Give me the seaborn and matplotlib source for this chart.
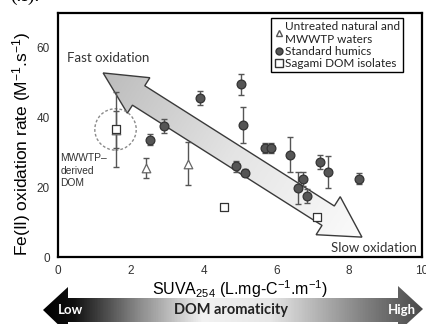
import numpy as np
import pandas as pd
import matplotlib
matplotlib.use("Agg")
import matplotlib.pyplot as plt
import seaborn as sns
from matplotlib.patches import Polygon, Ellipse
from matplotlib.lines import Line2D
from matplotlib.colors import LinearSegmentedColormap

# ---------------- data ----------------
untreated_x = [1.60, 2.42, 3.57]
untreated_y = [36.5, 25.6, 26.8]
untreated_err = [10.7, 2.9, 6.2]

humics_x = [2.52, 2.92, 3.91, 5.03, 5.08, 5.70, 5.85, 6.38, 4.88, 5.14, 6.58, 6.74, 6.84, 7.21, 7.41, 8.26]
humics_y = [33.7, 37.7, 45.6, 49.6, 37.9, 31.3, 31.3, 29.3, 26.0, 24.2, 19.8, 22.5, 17.4, 27.2, 24.4, 22.5]
humics_err = [1.5, 2.0, 2.0, 3.0, 5.2, 1.5, 1.5, 5.0, 1.5, 1.0, 4.5, 2.0, 2.0, 2.0, 4.5, 1.5]

sagami_x = [1.58, 4.56, 7.11]
sagami_y = [36.6, 14.4, 11.5]
sagami_err = [5.2, 0.0, 0.0]

labels = ["Untreated natural and\nMWWTP waters", "Standard humics", "Sagami DOM isolates"]
x_ticks = [0, 2, 4, 6, 8, 10]
y_ticks = [0, 20, 40, 60]

df = pd.concat([
    pd.DataFrame({"x": untreated_x, "y": untreated_y, "err": untreated_err, "g": labels[0]}),
    pd.DataFrame({"x": humics_x, "y": humics_y, "err": humics_err, "g": labels[1]}),
    pd.DataFrame({"x": sagami_x, "y": sagami_y, "err": sagami_err, "g": labels[2]}),
], ignore_index=True)

# ---------------- figure ----------------
sns.set_theme(style="white")
plt.rcParams["font.family"] = ["Liberation Sans", "DejaVu Sans"]
plt.rcParams["mathtext.fontset"] = "custom"
plt.rcParams["mathtext.rm"] = "Liberation Sans"
plt.rcParams["mathtext.it"] = "Liberation Sans:italic"
plt.rcParams["mathtext.bf"] = "Liberation Sans:bold"

W, H = 427, 324
fig = plt.figure(figsize=(W / 100, H / 100), dpi=100)
L, R, T, B = 58, 422, 13, 257
ax = fig.add_axes([L / W, 1 - B / H, (R - L) / W, (B - T) / H])
ax.set_xlim(0, 10)
ax.set_ylim(0, 70)

# big gradient double arrow (geometry in display space)
fig.canvas.draw()
def d2p(x, y):
    return ax.transData.transform((x, y))

tip1 = d2p(1.24, 52.8)
tip2 = d2p(8.35, 5.7)
v = tip2 - tip1
ln = np.hypot(*v)
u = v / ln
n = np.array([-u[1], u[0]])
hl1, hw1, hl2, hw2, bw = 42, 21, 40, 22.5, 11.5
pts = [tip1,
       tip1 + u * hl1 + n * hw1,
       tip1 + u * hl1 + n * bw,
       tip2 - u * hl2 + n * bw,
       tip2 - u * hl2 + n * hw2,
       tip2,
       tip2 - u * hl2 - n * hw2,
       tip2 - u * hl2 - n * bw,
       tip1 + u * hl1 - n * bw,
       tip1 + u * hl1 - n * hw1]
inv = ax.transData.inverted()
pts_d = inv.transform(np.array(pts))
poly = Polygon(pts_d, closed=True, facecolor="none", edgecolor="#3a3a3a", lw=1.0, zorder=2)
ax.add_patch(poly)
gx, gy = np.meshgrid(np.linspace(0, 10, 300), np.linspace(0, 70, 300))
disp = ax.transData.transform(np.column_stack([gx.ravel(), gy.ravel()]))
t = ((disp - tip1) @ u / ln).reshape(gx.shape)
t = np.clip(t, 0, 1)
cmap_big = LinearSegmentedColormap.from_list("big", ["#bcbcbc", "#e4e4e4", "#fbfbfb"])
im = ax.imshow(t, extent=[0, 10, 0, 70], origin="lower", cmap=cmap_big, vmin=0, vmax=1,
               aspect="auto", zorder=1.5, interpolation="bilinear")
clip_poly = Polygon(pts_d, closed=True, transform=ax.transData)
im.set_clip_path(clip_poly)

# dotted circle
ax.add_patch(Ellipse((1.58, 36.6), width=2 * 20.7 / 36.4, height=2 * 20.7 / 3.486,
                     fill=False, edgecolor="#8a8a8a", ls=(0, (2, 1.5)), lw=1.0, zorder=3))

# error bars
for g in labels:
    sub = df[df.g == g]
    ax.errorbar(sub.x, sub.y, yerr=sub.err, fmt="none", ecolor="#555555",
                elinewidth=1.0, capsize=2, capthick=1.0, zorder=4)

markers = {labels[0]: "^", labels[1]: "o", labels[2]: "s"}
facecol = {labels[0]: "white", labels[1]: "#555555", labels[2]: "white"}
edgecol = {labels[0]: "#666666", labels[1]: "#333333", labels[2]: "#333333"}
sizes = {labels[0]: 38, labels[1]: 40, labels[2]: 36}
for g in labels:
    sub = df[df.g == g]
    sns.scatterplot(data=sub, x="x", y="y", marker=markers[g], s=sizes[g],
                    color=facecol[g], edgecolor=edgecol[g], linewidth=0.9,
                    ax=ax, zorder=5, legend=False)

# axes style
ax.set_xticks(x_ticks)
ax.set_yticks(y_ticks)
ax.tick_params(length=0, labelsize=8.5, labelcolor="#333333", pad=6)
for s in ax.spines.values():
    s.set_color("black")
    s.set_linewidth(1.6)
ax.set_xlabel("SUVA$_{254}$ (L.mg-C$^{\\mathregular{-1}}$.m$^{\\mathregular{-1}}$)", fontsize=11.5, color="black")
ax.set_ylabel("Fe(II) oxidation rate (M$^{\\mathregular{-1}}$.s$^{\\mathregular{-1}}$)", fontsize=12.5, color="black")
ax.xaxis.set_label_coords(0.5, -0.088)
ax.yaxis.set_label_coords(-0.068, 0.465)

# texts
ax.text(0.25, 57.2, "Fast oxidation", family=["Lato", "DejaVu Sans"], fontsize=9.5, color="#333333",
        va="center", ha="left", zorder=6)
ax.text(9.85, 2.6, "Slow oxidation", family=["Lato", "DejaVu Sans"], fontsize=9.5, color="#333333",
        va="center", ha="right", zorder=6)
ax.text(0.06, 24.8, "MWWTP\u2013\nderived\nDOM", fontsize=7.4, color="#333333",
        va="center", ha="left", linespacing=1.3, zorder=6)

# legend
handles = [
    Line2D([], [], ls="none", marker="^", markersize=4, markerfacecolor="white", markeredgecolor="#555555"),
    Line2D([], [], ls="none", marker="o", markersize=5, markerfacecolor="#555555", markeredgecolor="#333333"),
    Line2D([], [], ls="none", marker="s", markersize=5.5, markerfacecolor="white", markeredgecolor="#333333"),
]
leg = ax.legend(handles, labels, loc="upper right", bbox_to_anchor=(0.948, 0.98), borderaxespad=0,
                frameon=True, fancybox=False, edgecolor="black", framealpha=1,
                prop={"family": ["Lato", "DejaVu Sans"], "size": 8.5},
                handlelength=0.7, handletextpad=0.2, borderpad=0.25, labelspacing=0.1)
leg.get_frame().set_linewidth(1.0)
for txt in leg.get_texts():
    txt.set_color("#222222")
leg.set_zorder(7)

# overlay for bottom arrow
ov = fig.add_axes([0, 0, 1, 1], zorder=-1)
ov.set_xlim(0, W)
ov.set_ylim(H, 0)
ov.axis("off")
ov.patch.set_visible(False)
cy = 310
barr = [(43, cy), (68, cy - 23), (68, cy - 12), (398, cy - 12), (398, cy - 24), (423, cy - 1),
        (398, cy + 22), (398, cy + 12), (68, cy + 12), (68, cy + 24)]
bpoly = Polygon(barr, closed=True, facecolor="none", edgecolor="none")
ov.add_patch(bpoly)
cmap_low = LinearSegmentedColormap.from_list(
    "low", [(0, "#000000"), (0.08, "#111111"), (0.25, "#8a8a8a"), (0.42, "#f2f2f2"),
            (0.6, "#e6e6e6"), (0.85, "#808080"), (1, "#4a4a4a")])
grad = np.linspace(0, 1, 400)[None, :]
im2 = ov.imshow(grad, extent=[43, 423, 340, 280], cmap=cmap_low, aspect="auto", interpolation="bilinear")
im2.set_clip_path(bpoly)
ov.text(71, cy, "Low", color="white", fontsize=9.5, fontweight="bold", family=["Lato", "DejaVu Sans"],
        ha="center", va="center")
ov.text(231, cy, "DOM aromaticity", color="#222222", fontsize=10.5, fontweight="bold",
        family=["Lato", "DejaVu Sans"], ha="center", va="center")
ov.text(402, cy, "High", color="white", fontsize=9.5, fontweight="bold", family=["Lato", "DejaVu Sans"],
        ha="center", va="center")
ov.text(10, -4, "(.I).", fontsize=14, family=["Liberation Serif", "DejaVu Serif"], color="black",
        ha="left", va="center", clip_on=False)

fig.savefig("out.png", dpi=100)
